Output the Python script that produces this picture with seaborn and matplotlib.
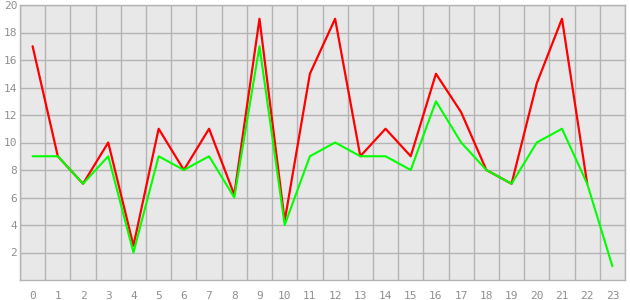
import matplotlib
matplotlib.use("Agg")
import matplotlib.pyplot as plt
import seaborn as sns
import pandas as pd
import numpy as np

hours = list(range(24))
red_values = [17, 9, 7, 10, 2.5, 11, 8, 11, 6.2, 19, 4.3, 15, 19, 9, 11, 9, 15, 12.2, 8, 7, 14.3, 19, 7, np.nan]
green_values = [9, 9, 7, 9, 2, 9, 8, 9, 6, 17, 4, 9, 10, 9, 9, 8, 13, 10, 8, 7, 10, 11, 7, 1]
y_ticks = [2, 4, 6, 8, 10, 12, 14, 16, 18, 20]

sns.set_style("white")
plt.rcParams['font.family'] = ['DejaVu Sans Mono', 'DejaVu Sans']

df = pd.DataFrame({"x": hours, "red": red_values, "green": green_values})

fig = plt.figure(figsize=(6.3, 3.0), dpi=100)
ax = fig.add_axes([20/630, 20/300, 605/630, 275/300])
ax.set_facecolor("#e8e8e8")

sns.lineplot(data=df, x="x", y="red", ax=ax, color="#ff0000", linewidth=1.6)
sns.lineplot(data=df, x="x", y="green", ax=ax, color="#00ff00", linewidth=1.5)

ax.set_xlim(-0.5, 23.5)
ax.set_ylim(0, 20)
ax.set_xticks(hours)
ax.set_xticklabels([str(h) for h in hours])
ax.set_yticks(y_ticks)
ax.set_yticklabels([str(v) for v in y_ticks])
ax.set_xticks(np.arange(-0.5, 24, 1), minor=True)
ax.grid(False)
ax.grid(True, which="minor", axis="x", color="#b4b4b4", linewidth=1)
ax.grid(True, which="major", axis="y", color="#b4b4b4", linewidth=1)
ax.set_axisbelow(True)
for s in ax.spines.values():
    s.set_color("#b4b4b4")
    s.set_linewidth(1)
ax.tick_params(axis="x", which="major", length=5, color="#b4b4b4", labelcolor="#909090", labelsize=8, pad=3)
ax.tick_params(axis="x", which="minor", length=0)
ax.tick_params(axis="y", length=0, labelcolor="#909090", labelsize=8, pad=2)
ax.set_xlabel("")
ax.set_ylabel("")

fig.savefig("out.png", dpi=100)
